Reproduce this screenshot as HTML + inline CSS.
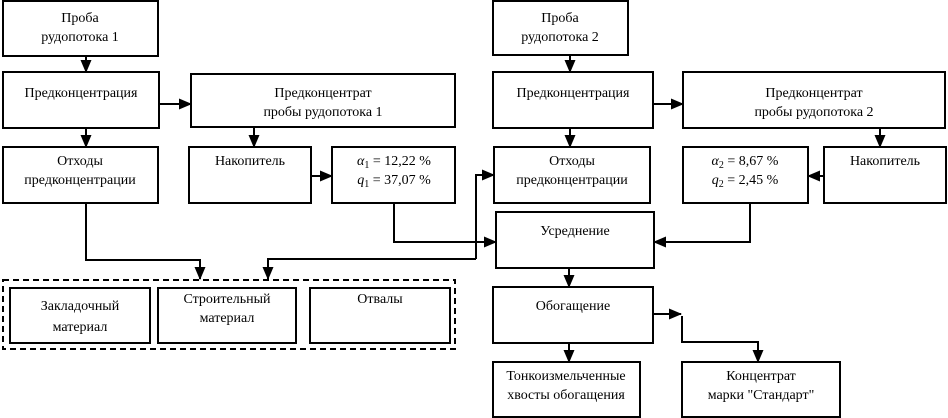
<!DOCTYPE html>
<html><head><meta charset="utf-8"><style>
html,body{margin:0;padding:0;background:#fff}
svg{display:block}
text{font-family:"Liberation Serif",serif;font-size:14px;fill:#000}
</style></head><body>
<svg width="948" height="418" viewBox="0 0 948 418" xmlns="http://www.w3.org/2000/svg">
<defs>
<marker id="a" markerWidth="14" markerHeight="12" refX="12" refY="6" orient="auto" markerUnits="userSpaceOnUse">
<path d="M0,0.5 L13,6 L0,11.5 z" fill="#000"/>
</marker>
</defs>
<g fill="none" stroke="#000" stroke-width="2">
<rect x="3" y="1" width="155" height="55"/>
<rect x="3" y="72" width="156" height="56"/>
<rect x="191" y="74" width="264" height="53"/>
<rect x="3" y="147" width="155" height="56"/>
<rect x="189" y="147" width="122" height="56"/>
<rect x="332" y="147" width="123" height="56"/>
<rect x="3" y="280" width="452" height="69" stroke-dasharray="6,4"/>
<rect x="10" y="288" width="140" height="55"/>
<rect x="158" y="288" width="138" height="55"/>
<rect x="310" y="288" width="140" height="55"/>
<rect x="493" y="1" width="135" height="54"/>
<rect x="493" y="72" width="160" height="56"/>
<rect x="683" y="72" width="262" height="56"/>
<rect x="494" y="147" width="156" height="56"/>
<rect x="683" y="147" width="125" height="56"/>
<rect x="824" y="147" width="122" height="56"/>
<rect x="496" y="212" width="158" height="56"/>
<rect x="493" y="287" width="160" height="56"/>
<rect x="493" y="362" width="147" height="55"/>
<rect x="682" y="362" width="158" height="55"/>
</g>
<g fill="none" stroke="#000" stroke-width="2" marker-end="url(#a)">
<path d="M86 56 V72"/>
<path d="M159 104 H191"/>
<path d="M86 128 V147"/>
<path d="M254 127 V147"/>
<path d="M311 176 H332"/>
<path d="M86 203 V260 H200 V279"/>
<path d="M394 203 V242 H496"/>
<path d="M476 259 V175 H494"/>
<path d="M476 259 H268 V279"/>
<path d="M570 55 V72"/>
<path d="M653 104 H683"/>
<path d="M570 128 V147"/>
<path d="M880 128 V147"/>
<path d="M824 176 H808"/>
<path d="M750 203 V242 H654"/>
<path d="M569 268 V287"/>
<path d="M653 314 H681"/>
<path d="M682 316 V342 H758 V362"/>
<path d="M569 343 V362"/>
</g>
<g text-anchor="middle">
<text x="80" y="22">Проба</text><text x="80" y="41">рудопотока 1</text>
<text x="81" y="97">Предконцентрация</text>
<text x="323" y="97">Предконцентрат</text><text x="323" y="116">пробы рудопотока 1</text>
<text x="80" y="165">Отходы</text><text x="80" y="184">предконцентрации</text>
<text x="250" y="165">Накопитель</text>
<text x="394" y="165"><tspan font-style="italic">α</tspan><tspan font-size="10" dy="3">1</tspan><tspan dy="-3"> = 12,22 %</tspan></text>
<text x="394" y="184"><tspan font-style="italic">q</tspan><tspan font-size="10" dy="3">1</tspan><tspan dy="-3"> = 37,07 %</tspan></text>
<text x="80" y="310">Закладочный</text><text x="80" y="331">материал</text>
<text x="227" y="303">Строительный</text><text x="227" y="322">материал</text>
<text x="380" y="303">Отвалы</text>
<text x="560" y="22">Проба</text><text x="560" y="41">рудопотока 2</text>
<text x="573" y="97">Предконцентрация</text>
<text x="814" y="97">Предконцентрат</text><text x="814" y="116">пробы рудопотока 2</text>
<text x="572" y="165">Отходы</text><text x="572" y="184">предконцентрации</text>
<text x="745" y="165"><tspan font-style="italic">α</tspan><tspan font-size="10" dy="3">2</tspan><tspan dy="-3"> = 8,67 %</tspan></text>
<text x="745" y="184"><tspan font-style="italic">q</tspan><tspan font-size="10" dy="3">2</tspan><tspan dy="-3"> = 2,45 %</tspan></text>
<text x="885" y="165">Накопитель</text>
<text x="575" y="235">Усреднение</text>
<text x="573" y="310">Обогащение</text>
<text x="566" y="380">Тонкоизмельченные</text><text x="566" y="399">хвосты обогащения</text>
<text x="761" y="380">Концентрат</text><text x="761" y="399">марки "Стандарт"</text>
</g>
</svg>
</body></html>
